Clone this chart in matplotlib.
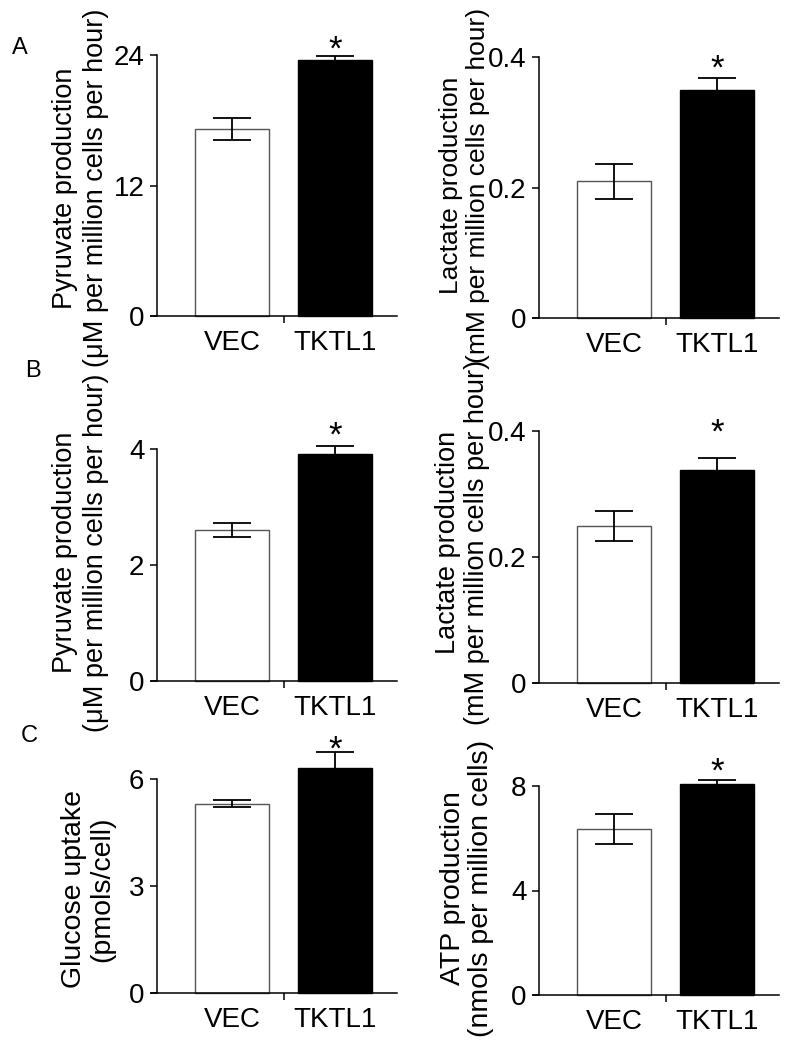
import matplotlib
matplotlib.use('Agg')
import matplotlib.pyplot as plt
from matplotlib.ticker import FixedLocator

plt.rcParams['font.family'] = ['Liberation Sans', 'DejaVu Sans']

# values
groups = ['VEC', 'TKTL1']

pyruvate_a = [17.2, 23.5]
pyruvate_a_err = [1.0, 0.4]
lactate_a = [0.21, 0.35]
lactate_a_err = [0.027, 0.018]

pyruvate_b = [2.61, 3.92]
pyruvate_b_err = [0.12, 0.14]
lactate_b = [0.25, 0.338]
lactate_b_err = [0.024, 0.019]

glucose = [5.30, 6.31]
glucose_err = [0.10, 0.43]
atp = [6.35, 8.07]
atp_err = [0.56, 0.16]

pyr_ticks = [0, 12, 24]
lac_ticks = [0, 0.2, 0.4]
lac_ticklabels = ['0', '0.2', '0.4']
pyr_b_ticks = [0, 2, 4]
glu_ticks = [0, 3, 6]
atp_ticks = [0, 4, 8]

pyr_label = 'Pyruvate production\n(\u03bcM per million cells per hour)'
lac_label = 'Lactate production\n(mM per million cells per hour)'
glu_label = 'Glucose uptake\n(pmols/cell)'
atp_label = 'ATP production\n(nmols per million cells)'

FS = 20
W, H = 801, 1050

fig = plt.figure(figsize=(W / 100, H / 100), dpi=100)


def panel(rect_px, vals, errs, ticks, ticklabels, ylabel, label_xy, lfs, lsp, star_gap):
    left, right, top, bottom = rect_px
    ax = fig.add_axes([left / W, 1 - bottom / H, (right - left) / W, (bottom - top) / H])
    x = [0, 1]
    bars = ax.bar(x, vals, width=0.72, color=['white', 'black'],
                  edgecolor=['#555555', 'black'], linewidth=1.0, zorder=2)
    for b in bars:
        b.set_clip_on(False)
    ax.errorbar(x, vals, yerr=errs, fmt='none', ecolor='black', elinewidth=1.3,
                capsize=13.5, capthick=1.3, zorder=3, clip_on=False)
    ax.annotate('*', xy=(1, vals[1] + errs[1]), xytext=(0, star_gap),
                textcoords='offset points', ha='center', va='baseline',
                fontsize=25, annotation_clip=False)
    ax.set_xlim(-0.786, 1.60)
    ax.set_ylim(ticks[0], ticks[-1])
    for s in ['top', 'right']:
        ax.spines[s].set_visible(False)
    ax.spines['left'].set_position(('axes', 0.024))
    for s in ['left', 'bottom']:
        ax.spines[s].set_linewidth(1.1)
    ax.set_yticks(ticks)
    ax.set_yticklabels(ticklabels, fontsize=FS)
    ax.tick_params(axis='y', direction='out', length=5, width=1.1, pad=4)
    ax.set_xticks(x)
    ax.set_xticklabels(groups, fontsize=FS)
    ax.tick_params(axis='x', which='major', length=0, pad=10)
    ax.xaxis.set_minor_locator(FixedLocator([0.5]))
    ax.tick_params(axis='x', which='minor', direction='out', length=5, width=1.1)
    ax.set_ylabel(ylabel, fontsize=lfs, linespacing=lsp)
    ax.yaxis.set_label_coords(*label_xy)
    return ax


panel((151, 397, 55, 316), pyruvate_a, pyruvate_a_err, pyr_ticks,
      [str(t) for t in pyr_ticks], pyr_label, (-0.171, 0.49), 19.5, 1.27, -2.5)
panel((533, 779, 57.3, 318.3), lactate_a, lactate_a_err, lac_ticks,
      lac_ticklabels, lac_label, (-0.175, 0.51), 19, 1.18, -0.5)
panel((151, 397, 449.3, 681), pyruvate_b, pyruvate_b_err, pyr_b_ticks,
      [str(t) for t in pyr_b_ticks], pyr_label, (-0.171, 0.555), 19.5, 1.27, 0)
panel((533, 779, 431.3, 683.3), lactate_b, lactate_b_err, lac_ticks,
      lac_ticklabels, lac_label, (-0.175, 0.56), 19.5, 1.15, 11.5)
panel((151, 397, 778.7, 992.7), glucose, glucose_err, glu_ticks,
      [str(t) for t in glu_ticks], glu_label, (-0.146, 0.485), 20.5, 1.10, -5)
panel((533, 779, 786, 995), atp, atp_err, atp_ticks,
      [str(t) for t in atp_ticks], atp_label, (-0.159, 0.51), 20.5, 1.07, -1.5)

for letter, (px, py) in zip('ABC', [(20, 48), (33, 371), (29, 736)]):
    fig.text(px / W, 1 - py / H, letter, fontsize=17, ha='center', va='center')

fig.savefig('out.png', dpi=100, facecolor='white')
